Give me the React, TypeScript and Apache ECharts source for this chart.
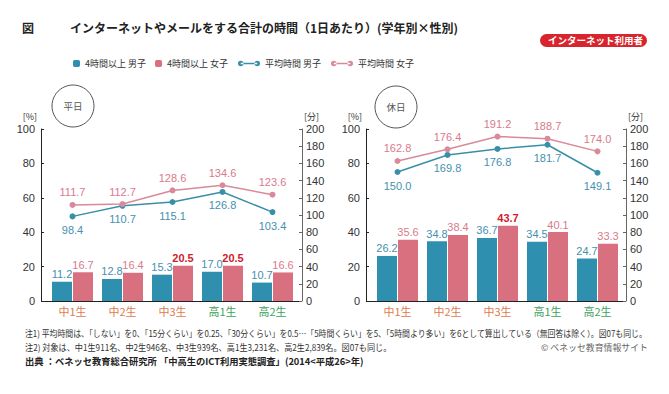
import React, { useEffect, useRef } from "react";
import * as echarts from "echarts";

const categories = ["中1生", "中2生", "中3生", "高1生", "高2生"];
const weekdayBoys4h = [11.2, 12.8, 15.3, 17.0, 10.7];
const weekdayGirls4h = [16.7, 16.4, 20.5, 20.5, 16.6];
const weekdayBoysAvg = [98.4, 110.7, 115.1, 126.8, 103.4];
const weekdayGirlsAvg = [111.7, 112.7, 128.6, 134.6, 123.6];
const holidayBoys4h = [26.2, 34.8, 36.7, 34.5, 24.7];
const holidayGirls4h = [35.6, 38.4, 43.7, 40.1, 33.3];
const holidayBoysAvg = [150.0, 169.8, 176.8, 181.7, 149.1];
const holidayGirlsAvg = [162.8, 176.4, 191.2, 188.7, 174.0];
const leftTicks = { min: 0, max: 100, interval: 20 };
const rightTicks = { min: 0, max: 200, interval: 20 };

const NAMES = ["4時間以上 男子", "4時間以上 女子", "平均時間 男子", "平均時間 女子"];
const BLUE = "#2e8fae";
const PINK = "#d9707f";
const BLUE_LINE = "#3a8fa8";
const PINK_LINE = "#d98a9a";
const BLUE_TXT = "#4590b0";
const PINK_TXT = "#d97a8c";
const HIGHLIGHT = "#d0202c";
const NUM_FONT = "Liberation Sans, Arial, sans-serif";
const JP_FONT = "Noto Sans CJK JP, sans-serif";
const LINE_ICON =
  "path://M0.3,3A2.7,2.7,0,1,0,5.7,3A2.7,2.7,0,1,0,0.3,3Z M16.3,3A2.7,2.7,0,1,0,21.7,3A2.7,2.7,0,1,0,16.3,3Z M3,2.3L19,2.3L19,3.7L3,3.7Z";

const NOTE1 =
  "注1) 平均時間は、「しない」を0、「15分くらい」を0.25、「30分くらい」を0.5…「5時間くらい」を5、「5時間より多い」を6として算出している（無回答は除く）。図07も同じ。";
const NOTE2 = "注2) 対象は、中1生911名、中2生946名、中3生939名、高1生3,231名、高2生2,839名。図07も同じ。";
const SOURCE = "出典 ：ベネッセ教育総合研究所 「中高生のICT利用実態調査」(2014<平成26>年)";
const CREDIT = "© ベネッセ教育情報サイト";

function fitScale(text: string, size: number, weight: string, target: number) {
  try {
    const ctx = document.createElement("canvas").getContext("2d");
    if (!ctx) return 1;
    ctx.font = `${weight} ${size}px "Noto Sans CJK JP"`;
    const w = ctx.measureText(text).width;
    return w > 0 ? target / w : 1;
  } catch (e) {
    return 1;
  }
}

function barData(vals: number[], highlightMax: boolean) {
  const mx = Math.max(...vals);
  return vals.map((v) =>
    highlightMax && v === mx
      ? { value: v, label: { color: HIGHLIGHT, fontWeight: "bold" } }
      : { value: v }
  );
}

function makeSeries(
  g: number,
  b4: number[],
  g4: number[],
  bAvg: number[],
  gAvg: number[]
) {
  const fmt = (p: any) => Number(p.value).toFixed(1);
  const lbl = (color: string, position: string, distance: number) => ({
    show: true,
    position,
    distance,
    color,
    fontSize: 11,
    fontFamily: NUM_FONT,
    formatter: fmt,
  });
  return [
    {
      name: NAMES[0],
      type: "bar",
      xAxisIndex: g,
      yAxisIndex: g * 2,
      data: barData(b4, false),
      barWidth: 20,
      barGap: "5%",
      itemStyle: { color: BLUE },
      label: lbl(BLUE_TXT, "top", 2),
    },
    {
      name: NAMES[1],
      type: "bar",
      xAxisIndex: g,
      yAxisIndex: g * 2,
      data: barData(g4, true),
      barWidth: 20,
      barGap: "5%",
      itemStyle: { color: PINK },
      label: lbl(PINK_TXT, "top", 2),
    },
    {
      name: NAMES[2],
      type: "line",
      xAxisIndex: g,
      yAxisIndex: g * 2 + 1,
      data: bAvg,
      symbol: "circle",
      symbolSize: 6,
      lineStyle: { color: BLUE_LINE, width: 1.5 },
      itemStyle: { color: BLUE_LINE },
      label: lbl(BLUE_TXT, "bottom", 5),
    },
    {
      name: NAMES[3],
      type: "line",
      xAxisIndex: g,
      yAxisIndex: g * 2 + 1,
      data: gAvg,
      symbol: "circle",
      symbolSize: 6,
      lineStyle: { color: PINK_LINE, width: 1.5 },
      itemStyle: { color: PINK_LINE },
      label: lbl(PINK_TXT, "top", 4),
    },
  ];
}

function xAxisFor(g: number) {
  return {
    type: "category",
    gridIndex: g,
    data: categories,
    axisLine: { show: false },
    axisTick: { show: false },
    axisLabel: {
      fontSize: 11,
      fontFamily: JP_FONT,
      margin: 4,
      color: (v: string) => (v.startsWith("中") ? "#e07a4c" : "#3aa359"),
    },
  };
}

function yAxisFor(g: number, side: "left" | "right", offset: number) {
  const t = side === "left" ? leftTicks : rightTicks;
  const lc = side === "left" ? "#222" : "#666";
  return {
    type: "value",
    gridIndex: g,
    position: side,
    offset,
    min: t.min,
    max: t.max,
    interval: t.interval,
    name: side === "left" ? "[%]" : "[分]",
    nameLocation: "end",
    nameGap: 8,
    nameTextStyle: {
      fontSize: 9,
      color: "#333",
      fontFamily: JP_FONT,
      align: side === "left" ? "right" : "left",
      padding: side === "left" ? [0, 4, 0, 0] : [0, 0, 0, 2],
    },
    splitLine: { show: false },
    axisLine: { show: true, lineStyle: { color: lc, width: 1 } },
    axisTick: { show: true, inside: true, length: 3, lineStyle: { color: lc } },
    axisLabel: {
      fontSize: 11,
      color: "#333",
      fontFamily: NUM_FONT,
      margin: side === "left" ? 6 : 4,
    },
  };
}

export default function App() {
  const ref = useRef<HTMLDivElement>(null);
  useEffect(() => {
    if (!ref.current) return;
    const chart = echarts.init(ref.current, undefined, { renderer: "svg" });
    const FS = 8.8;
    const foot = (text: string, x: number, y: number, target: number, bold: boolean, fill: string, size: number) => ({
      type: "text",
      x,
      y,
      scaleX: fitScale(text, size, bold ? "bold" : "normal", target),
      style: {
        text,
        fontSize: size,
        fontWeight: bold ? "bold" : "normal",
        fill,
        fontFamily: JP_FONT,
        verticalAlign: "middle",
      },
    });
    const legendText = { fontSize: 9, color: "#333", fontFamily: JP_FONT };
    chart.setOption({
      animation: false,
      backgroundColor: "#fff",
      grid: [
        { left: 47.5, top: 129, width: 250, height: 172 },
        { left: 372.5, top: 129, width: 250, height: 172 },
      ],
      legend: [
        {
          data: [NAMES[0], NAMES[1]],
          left: 73,
          top: 59,
          padding: 0,
          itemWidth: 7,
          itemHeight: 7,
          itemGap: 9,
          textStyle: legendText,
        },
        {
          data: [
            { name: NAMES[2], icon: LINE_ICON },
            { name: NAMES[3], icon: LINE_ICON },
          ],
          left: 238,
          top: 59,
          padding: 0,
          itemWidth: 22,
          itemHeight: 6,
          itemGap: 10,
          textStyle: legendText,
        },
      ],
      xAxis: [xAxisFor(0), xAxisFor(1)],
      yAxis: [
        yAxisFor(0, "left", 6.5),
        yAxisFor(0, "right", 4.5),
        yAxisFor(1, "left", 6.5),
        yAxisFor(1, "right", 3.5),
      ],
      series: [
        ...makeSeries(0, weekdayBoys4h, weekdayGirls4h, weekdayBoysAvg, weekdayGirlsAvg),
        ...makeSeries(1, holidayBoys4h, holidayGirls4h, holidayBoysAvg, holidayGirlsAvg),
      ],
      graphic: [
        {
          type: "line",
          shape: { x1: 41, y1: 301.5, x2: 302, y2: 301.5 },
          style: { stroke: "#222", lineWidth: 1 },
        },
        {
          type: "line",
          shape: { x1: 366, y1: 301.5, x2: 626, y2: 301.5 },
          style: { stroke: "#222", lineWidth: 1 },
        },
        {
          type: "text",
          left: 22,
          top: 21,
          style: { text: "図", fontSize: 12, fontWeight: "bold", fill: "#222", fontFamily: JP_FONT },
        },
        {
          type: "text",
          left: 70,
          top: 21,
          style: {
            text: "インターネットやメールをする合計の時間（1日あたり）(学年別×性別)",
            fontSize: 12,
            fontWeight: "bold",
            fill: "#222",
            fontFamily: JP_FONT,
          },
        },
        {
          type: "rect",
          left: 540,
          top: 34,
          shape: { width: 107, height: 13, r: 6.5 },
          style: { fill: "#d8242c" },
        },
        {
          type: "text",
          left: 548,
          top: 35,
          style: {
            text: "インターネット利用者",
            fontSize: 9.5,
            fontWeight: "bold",
            fill: "#fff",
            fontFamily: JP_FONT,
          },
        },
        {
          type: "circle",
          shape: { cx: 73, cy: 106, r: 21 },
          style: { fill: "none", stroke: "#555", lineWidth: 1 },
        },
        {
          type: "text",
          x: 73,
          y: 106,
          style: {
            text: "平日",
            fontSize: 9.5,
            fill: "#555",
            align: "center",
            verticalAlign: "middle",
            fontFamily: JP_FONT,
          },
        },
        {
          type: "circle",
          shape: { cx: 396, cy: 107, r: 21 },
          style: { fill: "none", stroke: "#555", lineWidth: 1 },
        },
        {
          type: "text",
          x: 396,
          y: 107,
          style: {
            text: "休日",
            fontSize: 9.5,
            fill: "#555",
            align: "center",
            verticalAlign: "middle",
            fontFamily: JP_FONT,
          },
        },
        foot(NOTE1, 25, 333, 623, false, "#333", FS),
        foot(NOTE2, 25, 347, 367, false, "#333", FS),
        foot(CREDIT, 541, 348, 107, false, "#666", FS),
        foot(SOURCE, 25, 361, 339, true, "#222", 9.5),
      ],
    });
    return () => chart.dispose();
  }, []);
  return (
    <div
      ref={ref}
      style={{ position: "fixed", left: 0, top: 0, width: 669, height: 394 }}
    />
  );
}
